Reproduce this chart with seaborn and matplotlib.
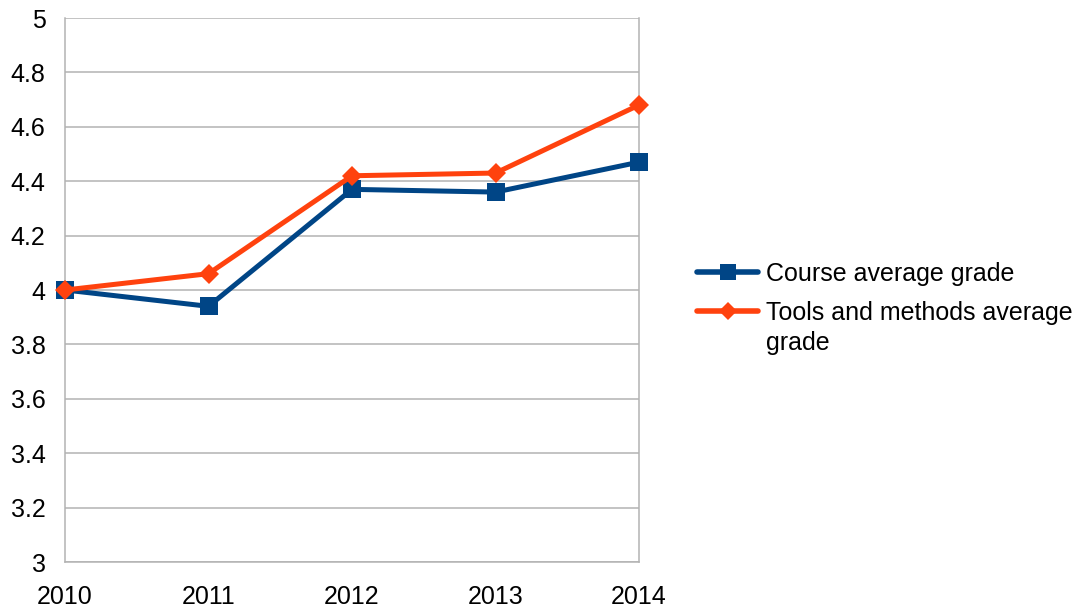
import matplotlib
matplotlib.use("Agg")
import matplotlib.pyplot as plt
import seaborn as sns
import pandas as pd

years = [2010, 2011, 2012, 2013, 2014]
course_avg = [4.00, 3.94, 4.37, 4.36, 4.47]
tools_avg = [4.00, 4.06, 4.42, 4.43, 4.68]
series_names = ["Course average grade", "Tools and methods average\ngrade"]
y_ticks = [3, 3.2, 3.4, 3.6, 3.8, 4, 4.2, 4.4, 4.6, 4.8, 5]
y_tick_labels = ["3", "3.2", "3.4", "3.6", "3.8", "4", "4.2", "4.4", "4.6", "4.8", "5"]

sns.set_theme(style="white")
plt.rcParams["font.family"] = ["Liberation Sans", "DejaVu Sans"]
plt.rcParams["text.color"] = "black"

df_course = pd.DataFrame({"year": years, "grade": course_avg})
df_tools = pd.DataFrame({"year": years, "grade": tools_avg})

fig = plt.figure(figsize=(10.9, 6.12), dpi=100)
ax = fig.add_axes([65 / 1090, 1 - 562 / 612, (639 - 65) / 1090, (562 - 18) / 612])

grid_c = "#b3b3b3"
sns.lineplot(data=df_course, x="year", y="grade", ax=ax, color="#004586",
             linewidth=3.6, marker="s", markersize=13, markeredgewidth=0,
             label=series_names[0], zorder=3, clip_on=False)
sns.lineplot(data=df_tools, x="year", y="grade", ax=ax, color="#ff420e",
             linewidth=3.6, marker="D", markersize=10, markeredgewidth=0,
             label=series_names[1], zorder=4, clip_on=False)

ax.set_xlim(2010, 2014)
ax.set_ylim(3, 5)
ax.set_xticks(years)
ax.set_xticklabels([str(y) for y in years])
ax.set_yticks(y_ticks)
ax.set_yticklabels(y_tick_labels)
ax.set_xlabel("")
ax.set_ylabel("")
ax.yaxis.grid(True, color=grid_c, linewidth=1.1)
ax.xaxis.grid(False)
ax.set_axisbelow(True)
for s in ["left", "bottom", "right"]:
    ax.spines[s].set_color(grid_c)
    ax.spines[s].set_linewidth(1.1)
ax.spines["top"].set_visible(False)
ax.tick_params(axis="both", which="both", length=7.5, width=1.1, color=grid_c,
               labelsize=18, labelcolor="black", direction="out")
ax.tick_params(axis="x", pad=9)
ax.tick_params(axis="y", pad=6.5)

handles, labels = ax.get_legend_handles_labels()
leg = ax.legend(handles, labels, loc="upper left", bbox_to_anchor=(697 / 1090, 1 - 262 / 612),
                bbox_transform=fig.transFigure, frameon=False, fontsize=18,
                handlelength=2.45, handleheight=1.15, handletextpad=0.3,
                labelspacing=0.55, borderaxespad=0, borderpad=0)
for hp in leg._legend_handle_box.get_children():
    for item in hp.get_children():
        item.align = "top"
for t in leg.get_texts():
    t.set_color("black")
    t.set_linespacing(1.32)
for line in leg.get_lines():
    line.set_linewidth(4)
leg.get_lines()[0].set_markersize(11)
leg.get_lines()[1].set_markersize(9)

fig.savefig("out.png", dpi=100)
